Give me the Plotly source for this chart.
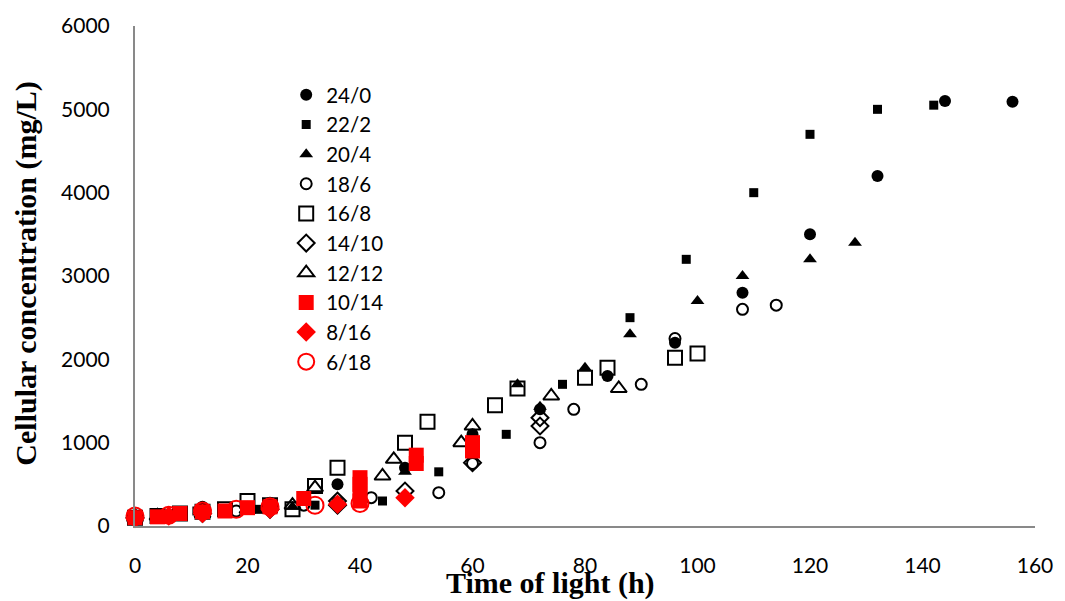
import plotly.graph_objects as go

# ---- data (time of light h, cellular concentration mg/L) ----
t_24_0 = [0, 12, 24, 36, 48, 60, 72, 84, 96, 108, 120, 132, 144, 156]
c_24_0 = [100, 230, 280, 500, 700, 1100, 1400, 1800, 2200, 2800, 3500, 4200, 5100, 5090]

t_22_2 = [0, 11, 22, 32, 44, 54, 66, 76, 88, 98, 110, 120, 132, 142]
c_22_2 = [100, 180, 200, 250, 300, 650, 1100, 1700, 2500, 3200, 4000, 4700, 5000, 5050]

t_20_4 = [0, 4, 12, 28, 36, 48, 60, 68, 72, 80, 88, 100, 108, 120, 128]
c_20_4 = [100, 130, 180, 230, 280, 650, 1100, 1700, 1430, 1900, 2300, 2700, 3000, 3200, 3400]

t_18_6 = [0, 6, 12, 18, 24, 30, 36, 42, 54, 60, 72, 78, 90, 96, 108, 114]
c_18_6 = [100, 130, 160, 180, 220, 250, 280, 340, 400, 750, 1000, 1400, 1700, 2250, 2600, 2650]

t_16_8 = [0, 4, 8, 12, 16, 20, 24, 28, 32, 36, 48, 52, 64, 68, 80, 84, 96, 100]
c_16_8 = [100, 120, 150, 170, 200, 300, 250, 200, 480, 700, 1000, 1250, 1450, 1650, 1780, 1900, 2020, 2070]

t_14_10 = [0, 12, 24, 36, 36, 48, 60, 72, 72]
c_14_10 = [100, 150, 200, 250, 300, 420, 760, 1200, 1300]

t_12_12 = [0, 4, 12, 20, 28, 32, 44, 46, 58, 60, 74, 86]
c_12_12 = [100, 120, 150, 200, 250, 460, 600, 800, 1000, 1200, 1560, 1650]

t_10_14 = [0, 4, 8, 12, 16, 20, 24, 30, 40, 40, 40, 40, 50, 50, 60, 60]
c_10_14 = [100, 110, 150, 170, 180, 220, 230, 330, 300, 400, 500, 580, 750, 850, 900, 1000]

t_8_16 = [0, 6, 12, 24, 36, 48]
c_8_16 = [90, 120, 150, 200, 260, 340]

t_6_18 = [0, 6, 12, 18, 24, 32, 40]
c_6_18 = [120, 130, 180, 200, 230, 250, 270]

x_ticks = [0, 20, 40, 60, 80, 100, 120, 140, 160]
y_ticks = [0, 1000, 2000, 3000, 4000, 5000, 6000]

BLACK = "#000000"
RED = "#FF0000"

series = [
    ("24/0", t_24_0, c_24_0, "circle", BLACK, 12, 0),
    ("22/2", t_22_2, c_22_2, "square", BLACK, 9, 0),
    ("20/4", t_20_4, c_20_4, "triangle-up", BLACK, 12, 0),
    ("18/6", t_18_6, c_18_6, "circle-open", BLACK, 11, 2),
    ("16/8", t_16_8, c_16_8, "square-open", BLACK, 14, 2),
    ("14/10", t_14_10, c_14_10, "diamond-open", BLACK, 13, 2),
    ("12/12", t_12_12, c_12_12, "triangle-up-open", BLACK, 14, 2),
    ("10/14", t_10_14, c_10_14, "square", RED, 15, 0),
    ("8/16", t_8_16, c_8_16, "diamond", RED, 15, 0),
    ("6/18", t_6_18, c_6_18, "circle-open", RED, 17, 2),
]

fig = go.Figure()
for name, xs, ys, sym, col, size, lw in series:
    marker = dict(symbol=sym, color=col, size=size)
    if lw:
        marker["line"] = dict(color=col, width=lw)
    fig.add_trace(go.Scatter(x=xs, y=ys, mode="markers", name=name,
                             marker=marker, cliponaxis=False))

axis_line = "#898989"
fig.update_layout(
    width=1065, height=601,
    margin=dict(l=135, r=25, t=22, b=75),
    paper_bgcolor="white", plot_bgcolor="white",
    font=dict(family="Lato, Open Sans, sans-serif", color="#000000"),
    showlegend=True,
    legend=dict(x=0.168, y=0.902, xanchor="left", yanchor="top",
                font=dict(size=20.5, family="Lato, Open Sans, sans-serif"),
                bgcolor="rgba(0,0,0,0)", itemwidth=30, tracegroupgap=0),
    xaxis=dict(range=[0, 160], tickvals=x_ticks, ticktext=[str(v) for v in x_ticks],
               showgrid=False, zeroline=False, showline=True, linecolor=axis_line,
               linewidth=2, ticks="", ticklabelstandoff=20,
               tickfont=dict(size=21)),
    yaxis=dict(range=[0, 6000], tickvals=y_ticks, ticktext=[str(v) for v in y_ticks],
               showgrid=False, zeroline=False, showline=True, linecolor=axis_line,
               linewidth=2, ticks="", ticklabelstandoff=19,
               tickfont=dict(size=21)),
    annotations=[
        dict(text="<b>Time of light (h)</b>", xref="paper", yref="paper",
             x=0.462, y=-0.113, xanchor="center", yanchor="middle", showarrow=False,
             font=dict(family="Liberation Serif, Times New Roman, serif", size=30, color="#000000")),
        dict(text="<b>Cellular concentration (mg/L)</b>", xref="paper", yref="paper",
             x=-0.1215, y=0.504, xanchor="center", yanchor="middle", showarrow=False,
             textangle=-90,
             font=dict(family="Liberation Serif, Times New Roman, serif", size=30, color="#000000")),
    ],
)

fig.write_html("out.html")
